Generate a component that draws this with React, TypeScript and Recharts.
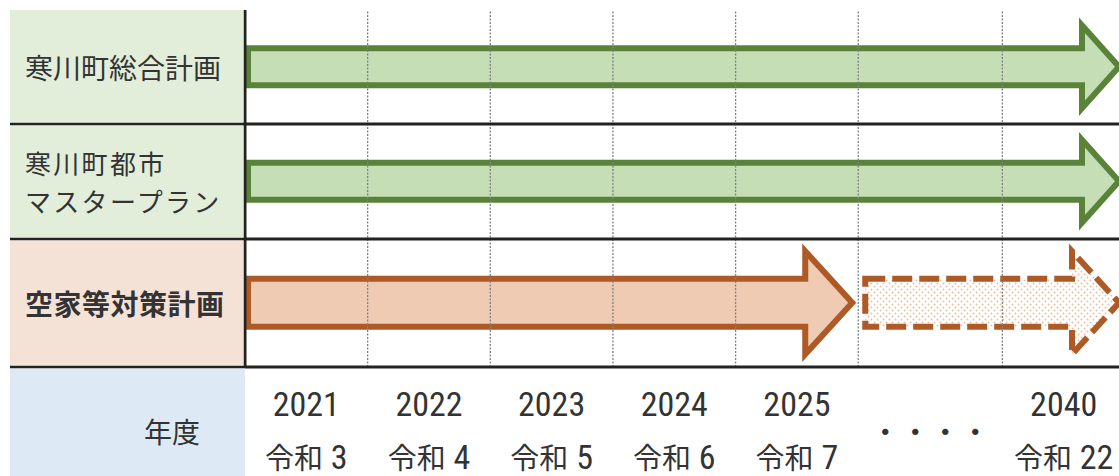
import React from 'react';
import { BarChart, Bar, XAxis, YAxis, ReferenceLine } from 'recharts';

// ---------- data ----------
const planNames = ['寒川町総合計画', '寒川町都市\nマスタープラン', '空家等対策計画'];
const planStartYear = [2021, 2021, 2021];
const planEndYear = [2040, 2040, 2025];
const planExtensionEndYear: (number | null)[] = [null, null, 2040];
const planHighlight = [false, false, true];

const columnFirstYear = [2021, 2022, 2023, 2024, 2025, 2026, 2040];
const columnYearLabels = ['2021', '2022', '2023', '2024', '2025', '・・・・', '2040'];
const columnEraLabels = ['令和 3', '令和 4', '令和 5', '令和 6', '令和 7', '', '令和 22'];
const axisTitle = '年度';
const LAST_YEAR = 2040;

// ---------- layout / style ----------
const VIEW_W = 1119;
const CHART_W = 1125;
const CHART_H = 476;
const LEFT_EDGE = 10;
const LABEL_W = 245;
const TOP = 10;
const AXIS_H = 109;
const ROW_HEIGHTS = [114, 115, 128];
const GAP_COLUMN_WIDTH = 1.175;

const CJK = "'Noto Sans CJK JP', 'Noto Sans', sans-serif";
const NARROW = "'Liberation Sans Narrow', 'Arial Narrow', 'Roboto Condensed', 'Liberation Sans', sans-serif";
const TEXT = '#333333';
const LINE = '#222222';

const GREEN = { stroke: '#5A833A', fill: '#C5DEB5', cell: '#E2EEDA', bodyHalf: 18.5, headHalf: 41.5, headLen: 37 };
const ORANGE = { stroke: '#AE5A27', fill: '#F0CBB3', cell: '#F5E2D6', bodyHalf: 24, headHalf: 51.5, headLen: 47 };
const AXIS_CELL = '#DDEAF6';
const STROKE_W = 6;
const TIP_INSET = 6;

// ---------- derived helpers ----------
const nCols = columnFirstYear.length;
const columnSpanYears = columnFirstYear.map((y, i) => (i < nCols - 1 ? columnFirstYear[i + 1] : LAST_YEAR + 1) - y);
const columnWidths = columnSpanYears.map((s) => (s > 1 ? GAP_COLUMN_WIDTH : 1));
const columnStarts = columnWidths.map((_, i) => columnWidths.slice(0, i).reduce((a, b) => a + b, 0));
const TOTAL_COLS = columnWidths.reduce((a, b) => a + b, 0);
const columnCenters = columnStarts.map((s, i) => s + columnWidths[i] / 2);

const yearStartPos = (year: number) => {
  let i = 0;
  for (let k = 0; k < nCols; k++) if (columnFirstYear[k] <= year) i = k;
  return columnStarts[i] + ((year - columnFirstYear[i]) / columnSpanYears[i]) * columnWidths[i];
};
const yearEndPos = (year: number) => (year >= LAST_YEAR ? TOTAL_COLS : yearStartPos(year + 1));

const TOTAL_ROWS = ROW_HEIGHTS.reduce((a, b) => a + b, 0);
const rowTops = ROW_HEIGHTS.map((_, i) => ROW_HEIGHTS.slice(0, i).reduce((a, b) => a + b, 0));
const rowCenters = rowTops.map((t, i) => t + ROW_HEIGHTS[i] / 2);
const rowBottoms = rowTops.map((t, i) => t + ROW_HEIGHTS[i]);

const rows = planNames.map((name, i) => {
  const start = yearStartPos(planStartYear[i]);
  const end = yearEndPos(planEndYear[i]);
  const ext = planExtensionEndYear[i];
  return {
    plan: name,
    rowCenter: rowCenters[i],
    lead: start,
    solid: end - start,
    extension: ext != null ? yearEndPos(ext) - end : 0,
    highlight: planHighlight[i],
  };
});

// ---------- shapes ----------
const arrowPath = (xs: number, xt: number, cy: number, st: typeof GREEN) => {
  const hb = xt - st.headLen;
  return `M${xs},${cy - st.bodyHalf} L${hb},${cy - st.bodyHalf} L${hb},${cy - st.headHalf} L${xt},${cy} L${hb},${cy + st.headHalf} L${hb},${cy + st.bodyHalf} L${xs},${cy + st.bodyHalf} Z`;
};

const SolidArrow = (props: any) => {
  const { x, y, width, height, payload } = props;
  if (!width || width <= 1) return null;
  const st = payload.highlight ? ORANGE : GREEN;
  const cy = y + height / 2;
  return (
    <path
      d={arrowPath(x + STROKE_W / 2, x + width - TIP_INSET, cy, st)}
      fill={st.fill}
      stroke={st.stroke}
      strokeWidth={STROKE_W}
      strokeLinejoin="miter"
    />
  );
};

const DashedArrow = (props: any) => {
  const { x, y, width, height, payload } = props;
  if (!width || width <= 1 || !payload.extension) return null;
  const st = payload.highlight ? ORANGE : GREEN;
  const cy = y + height / 2;
  return (
    <g>
      <defs>
        <pattern id="dotFill" width="6" height="6" patternUnits="userSpaceOnUse">
          <circle cx="1.5" cy="1.5" r="0.95" fill="#EFBB9B" />
          <circle cx="4.5" cy="4.5" r="0.95" fill="#EFBB9B" />
        </pattern>
      </defs>
      <path
        d={arrowPath(x + 7, x + width - TIP_INSET, cy, st)}
        fill="url(#dotFill)"
        stroke={st.stroke}
        strokeWidth={STROKE_W}
        strokeDasharray="20 7"
        strokeLinejoin="miter"
      />
    </g>
  );
};

const Nothing = () => null;

// ---------- ticks / labels ----------
const PlanTick = (props: any) => {
  const { y, payload } = props;
  const i = rowCenters.findIndex((c) => Math.abs(c - payload.value) < 1e-6);
  if (i < 0) return null;
  const row = rows[i];
  const st = row.highlight ? ORANGE : GREEN;
  const h = ROW_HEIGHTS[i];
  const top = y - h / 2 + (i > 0 ? 1.5 : 0);
  const bottom = y + h / 2 - 1.5;
  const lines = row.plan.split('\n');
  const multi = lines.length > 1;
  const lh = 38;
  const x0 = LEFT_EDGE + 15;
  return (
    <g>
      <rect x={LEFT_EDGE} y={top} width={LABEL_W - LEFT_EDGE - 1.5} height={bottom - top} fill={st.cell} />
      {lines.map((l, k) => (
        <text
          key={k}
          x={x0}
          y={y + (k - (lines.length - 1) / 2) * lh}
          dominantBaseline="central"
          fontFamily={CJK}
          fontSize={multi ? 26 : 28}
          fontWeight={row.highlight ? 700 : 400}
          letterSpacing={multi ? 2.3 : row.highlight ? 0.5 : 0}
          fill={TEXT}
        >
          {l}
        </text>
      ))}
    </g>
  );
};

const ColumnTick = (props: any) => {
  const { x, y, payload } = props;
  const i = columnCenters.findIndex((c) => Math.abs(c - payload.value) < 1e-6);
  if (i < 0) return null;
  const yl = columnYearLabels[i];
  const era = columnEraLabels[i];
  if (!era) {
    return (
      <text x={x} y={y + 63} textAnchor="middle" dominantBaseline="central" fontFamily={CJK} fontSize={30} fill={TEXT}>
        {yl}
      </text>
    );
  }
  const m = era.match(/^([^\d\s]+)(\s*)(\d+)$/);
  return (
    <g>
      <text x={x} y={y + 49} textAnchor="middle" fontFamily={NARROW} fontSize={34} fill={TEXT}>
        {yl}
      </text>
      <text x={x} y={y + 102} textAnchor="middle" fill={TEXT}>
        {m ? (
          <>
            <tspan fontFamily={CJK} fontSize={29}>{m[1]}</tspan>
            <tspan fontFamily={NARROW} fontSize={34}>{' ' + m[3]}</tspan>
          </>
        ) : (
          <tspan fontFamily={CJK} fontSize={29}>{era}</tspan>
        )}
      </text>
    </g>
  );
};

const AxisTitleCell = (props: any) => {
  const vb = props.viewBox || {};
  const ax = vb.x ?? LABEL_W;
  const ay = vb.y ?? CHART_H - AXIS_H;
  const ah = vb.height ?? AXIS_H;
  return (
    <g>
      <rect x={LEFT_EDGE} y={ay + 1.5} width={ax - LEFT_EDGE} height={ah} fill={AXIS_CELL} />
      <text x={ax - 45} y={ay + 64} textAnchor="end" dominantBaseline="central" fontFamily={CJK} fontSize={28} fill={TEXT}>
        {axisTitle}
      </text>
    </g>
  );
};

const FullWidthLine = (p: any) => (
  <line x1={LEFT_EDGE} y1={p.y1} x2={p.x2} y2={p.y2} stroke={LINE} strokeWidth={3} />
);

export default function App() {
  return (
    <div style={{ position: 'absolute', left: 0, top: 0, width: VIEW_W, height: CHART_H, overflow: 'hidden', background: '#fff' }}>
      <BarChart
        width={CHART_W}
        height={CHART_H}
        data={rows}
        layout="vertical"
        margin={{ top: TOP, right: 0, bottom: 0, left: 0 }}
      >
        <XAxis
          type="number"
          domain={[0, TOTAL_COLS]}
          ticks={columnCenters}
          interval={0}
          height={AXIS_H}
          axisLine={false}
          tickLine={false}
          tickSize={0}
          tickMargin={0}
          tick={<ColumnTick />}
          label={<AxisTitleCell />}
        />
        <YAxis
          type="number"
          dataKey="rowCenter"
          domain={[0, TOTAL_ROWS]}
          ticks={rowCenters}
          interval={0}
          width={LABEL_W}
          axisLine={{ stroke: LINE, strokeWidth: 3 }}
          tickLine={false}
          tick={<PlanTick />}
        />
        {columnStarts.slice(1).map((b) => (
          <ReferenceLine key={'g' + b} x={b} stroke="#808080" strokeWidth={1.3} strokeDasharray="2 1.5" />
        ))}
        {rowBottoms.map((b) => (
          <ReferenceLine key={'r' + b} y={b} shape={<FullWidthLine />} />
        ))}
        <Bar dataKey="lead" stackId="plan" barSize={100} shape={<Nothing />} isAnimationActive={false} />
        <Bar dataKey="solid" stackId="plan" barSize={100} shape={<SolidArrow />} isAnimationActive={false} />
        <Bar dataKey="extension" stackId="plan" barSize={100} shape={<DashedArrow />} isAnimationActive={false} />
      </BarChart>
    </div>
  );
}
